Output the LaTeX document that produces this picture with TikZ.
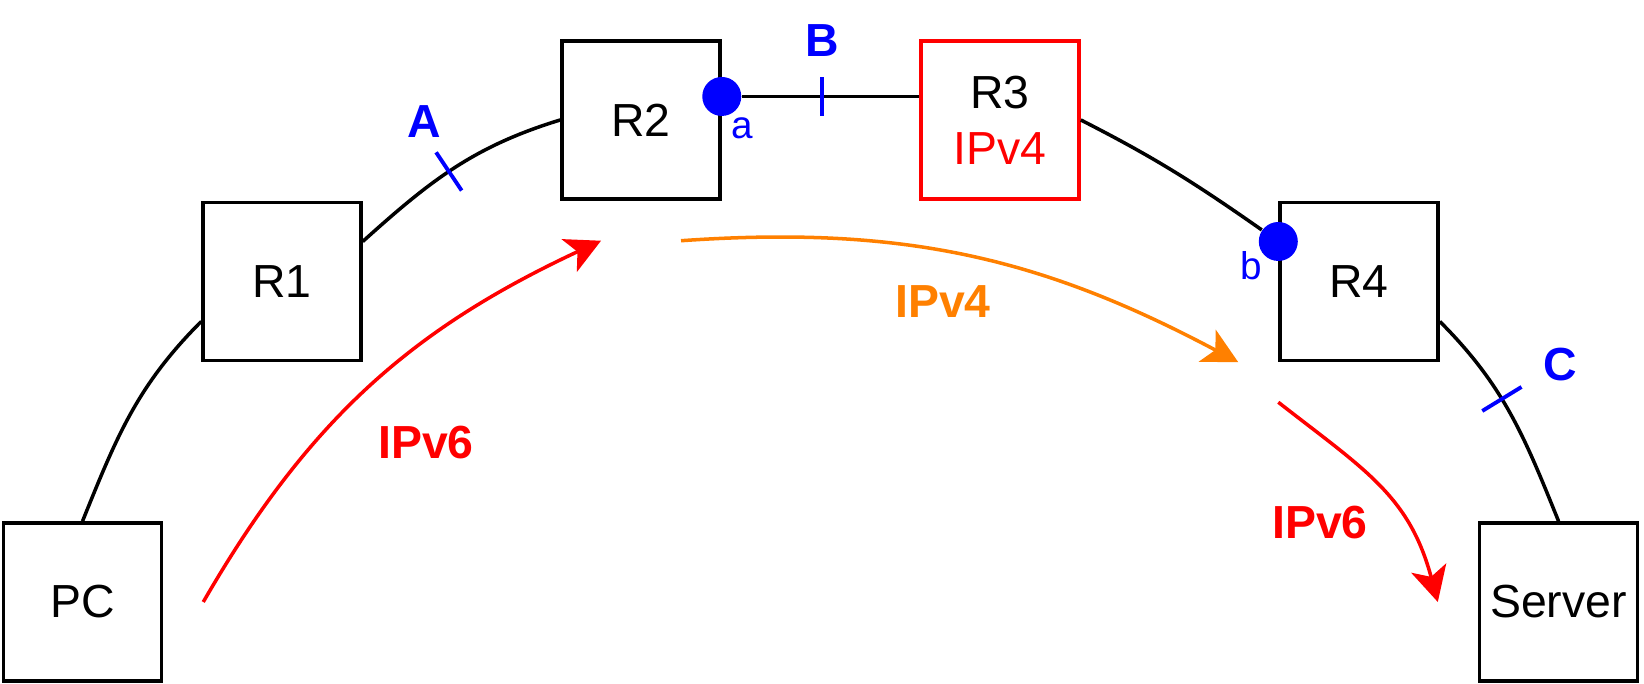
\documentclass[tikz,border=0pt]{standalone}
\usepackage{fontspec}
\setmainfont{Liberation Sans}
\usepackage{tikz}
\usetikzlibrary{arrows.meta, positioning}
\definecolor{rojo}{RGB}{255,0,0}
\definecolor{azul}{RGB}{0,0,255}
\definecolor{naranja}{RGB}{255,128,0}
\tikzset{
  equipo/.style={rectangle, draw=black, fill=white, line width=1pt,
    minimum size=15.8mm, inner sep=1pt, align=center,
    font=\fontsize{13.2}{16}\selectfont},
  puerto/.style={circle, fill=azul, minimum size=3.9mm, inner sep=0pt},
  enlace/.style={line width=1pt, color=black},
  marca/.style={sloped, fill=azul, minimum width=1.1pt, minimum height=4.6mm,
    inner sep=0pt, outer sep=0pt},
  flecha/.style={-{Stealth[length=3.5mm, width=3.6mm, inset=0.9mm]}, line width=1pt},
  letra/.style={font=\fontsize{13.2}{16}\selectfont\bfseries, text=azul, inner sep=0pt},
  etiq/.style={font=\fontsize{13.2}{16}\selectfont\bfseries, inner sep=0pt},
  pequena/.style={font=\fontsize{11}{13}\selectfont, text=azul, inner sep=0pt}
}
\begin{document}
\begin{tikzpicture}
  \useasboundingbox (0,0) rectangle (16.44,6.84);
  % equipos en arco
  \node[equipo] (pc) at (0.825,0.82) {PC};
  \node[equipo, above right=15.9mm and 3.8mm of pc] (r1) {R1};
  \node[equipo, above right=0mm and 19.75mm of r1] (r2) {R2};
  \node[equipo, draw=rojo, right=19.75mm of r2] (r3) {R3\\\textcolor{rojo}{IPv4}};
  \node[equipo, below right=0mm and 19.75mm of r3] (r4) {R4};
  \node[equipo, below right=15.9mm and 3.8mm of r4] (srv) {Server};
  % puertos del tunel
  \node[puerto] (pa) at ([yshift=2.35mm]r2.east) {};
  \node[puerto] (pb) at ([yshift=4mm]r4.west) {};
  % enlaces
  \draw[enlace] (pc.north) to[out=68, in=-135] ([yshift=-4mm]r1.west);
  \draw[enlace] ([yshift=4mm]r1.east) to[out=42, in=-163]
    node[marca, pos=.47] (ma) {} (r2.west);
  \draw[enlace] (pa) -- node[marca, pos=.45, minimum height=3.9mm] (mb) {} (pa -| r3.west);
  \draw[enlace] (r3.east) to[out=-27, in=145] (pb);
  \draw[enlace] ([yshift=-4mm]r4.east) to[out=-45, in=112]
    node[marca, pos=.42] (mc) {} (srv.north);
  % extremos de las flechas
  \coordinate (v6a) at ([xshift=4mm]pc.east);
  \coordinate (v6b) at ([shift={(-4mm,-4mm)}]r2.south);
  \coordinate (v4a) at ([shift={(4mm,-4mm)}]r2.south);
  \coordinate (v4b) at ([xshift=-4mm]r4.south west);
  \coordinate (v6c) at ([yshift=-4mm]r4.south west);
  \coordinate (v6d) at ([xshift=-4mm]srv.west);
  \draw[flecha, rojo] (v6a) to[out=60, in=-155] (v6b);
  \draw[flecha, naranja] (v4a) to[out=4, in=152] (v4b);
  \draw[flecha, rojo] (v6c) to[out=-38, in=105, looseness=1.1] (v6d);
  % etiquetas
  \node[letra] (la) at ([shift={(-2.5mm,5mm)}]ma) {A};
  \node[letra] (lb) at ([yshift=5.6mm]mb) {B};
  \node[letra] (lc) at ([shift={(5.8mm,3.4mm)}]mc) {C};
  \node[pequena] (lpa) at ([shift={(2mm,-3.2mm)}]pa) {a};
  \node[pequena] (lpb) at ([shift={(-2.7mm,-2.4mm)}]pb) {b};
  \node[etiq, text=rojo] (t6izq) at (4.26,2.41) {IPv6};
  \node[etiq, text=naranja] (t4) at (9.43,3.82) {IPv4};
  \node[etiq, text=rojo] (t6der) at (13.20,1.61) {IPv6};
\end{tikzpicture}
\end{document}
